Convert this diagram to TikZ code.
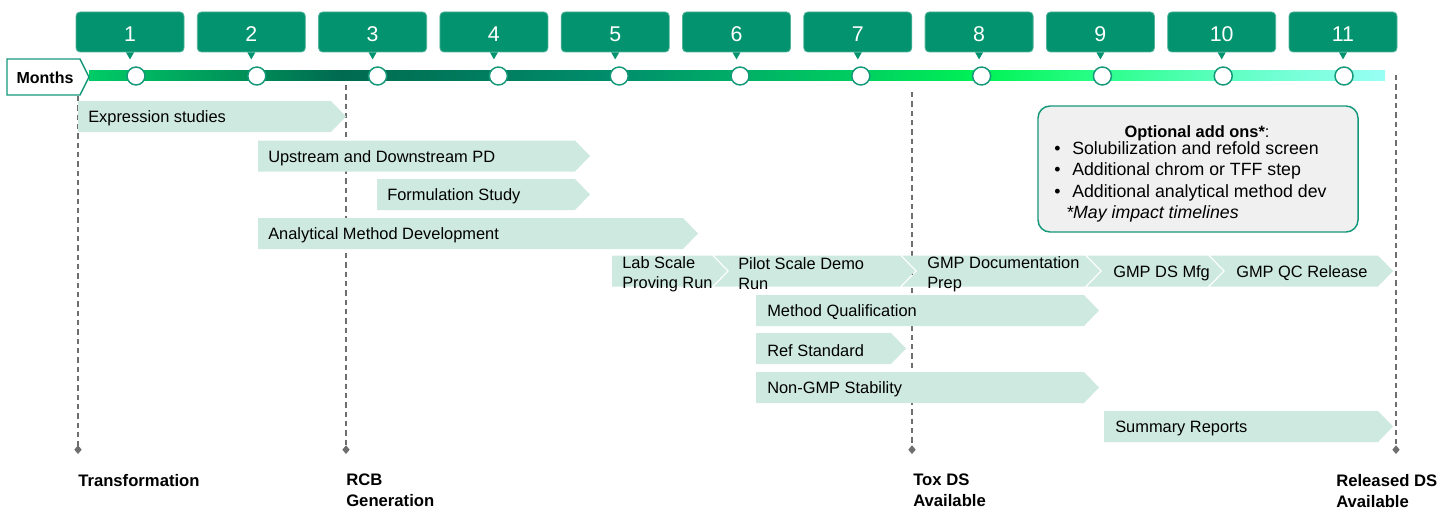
\documentclass[tikz,border=0pt]{standalone}
\usepackage{fontspec}
\setmainfont{Liberation Sans}
\usepackage{tikz}
\usetikzlibrary{arrows.meta}

\definecolor{tagGreen}{HTML}{03936F}
\definecolor{dotGreen}{HTML}{14987A}
\definecolor{barMint}{HTML}{CEE9E0}
\definecolor{guideGray}{HTML}{6E6E6E}
\definecolor{boxGray}{HTML}{F0F0F0}
\definecolor{lineA}{HTML}{00CC66}
\definecolor{lineB}{HTML}{006A50}
\definecolor{lineC}{HTML}{008F6C}
\definecolor{lineD}{HTML}{00D060}
\definecolor{lineE}{HTML}{00F255}
\definecolor{lineF}{HTML}{2BFF8A}
\definecolor{lineG}{HTML}{5CFFC0}
\definecolor{lineH}{HTML}{99FFF5}

\pgfdeclarehorizontalshading{monthline}{100bp}{color(0bp)=(lineA); color(25bp)=(lineA);
  color(34.7bp)=(lineB); color(45.5bp)=(lineC); color(54.8bp)=(lineD); color(59.4bp)=(lineE);
  color(64.1bp)=(lineF); color(68.7bp)=(lineG); color(75bp)=(lineH); color(100bp)=(lineH)}

% left end, tip, centre y, notch depth
\newcommand{\taskbar}[4]{%
  \fill[barMint] (#1,{#3-15.5}) -- ({#2-15},{#3-15.5}) -- (#2,#3) -- ({#2-15},{#3+15.5})
    -- (#1,{#3+15.5}) -- ({#1+#4},#3) -- cycle;}

\tikzset{
  tag/.style={rectangle, rounded corners=3pt, fill=tagGreen, draw=tagGreen!70!white, line width=0.6pt,
    minimum width=81pt, minimum height=30pt, text height=14pt, text=white, font=\fontsize{16}{18}\selectfont},
  dot/.style={circle, fill=white, draw=dotGreen, line width=1.1pt, minimum size=13.5pt, inner sep=0pt},
  tasktext/.style={anchor=west, inner sep=0pt, align=left, font=\fontsize{12.3}{15}\selectfont},
  guide/.style={guideGray, line width=0.9pt, dash pattern=on 4pt off 3pt, -{Diamond[length=6.5pt,width=5.5pt]}},
  milestone/.style={anchor=north west, inner sep=0pt, align=left, font=\bfseries\fontsize{12.5}{15.75}\selectfont},
  addonbox/.style={rectangle, rounded corners=9pt, fill=boxGray, draw=dotGreen, line width=1.1pt,
    minimum width=240pt, minimum height=94.5pt},
  addonitem/.style={anchor=west, inner sep=0pt, font=\fontsize{13.3}{16}\selectfont}
}

\begin{document}
\begin{tikzpicture}[x=0.75pt, y=-0.75pt]
    \useasboundingbox (0,0) rectangle (1455,510);

    % guides
    \coordinate (g1top) at (78,96);    \coordinate (g1bot) at (78,454);
    \coordinate (g2top) at (346,85);   \coordinate (g2bot) at (346,454);
    \coordinate (g3top) at (912,92);   \coordinate (g3bot) at (912,454);
    \coordinate (g4top) at (1396,75);  \coordinate (g4bot) at (1396,454);
    \foreach \g in {1,...,4}
        \draw[guide] (g\g top) -- (g\g bot);

    % month line
    \fill[shading=monthline] (89,71) rectangle (1385,81);
    \draw[draw=dotGreen, fill=white, line width=1.1pt] (7,59) -- (80,59) -- (89,77) -- (80,95) -- (7,95) -- cycle;
    \node (months) at (45,78) {\bfseries\fontsize{12}{14}\selectfont Months};

    \foreach \i in {1,...,11} {
        \node[tag] (tag\i) at ({130+(\i-1)*121.3},32) {\i};
        \fill[tagGreen] ([xshift=-3pt]tag\i.south) -- ([yshift=-5.25pt]tag\i.south) -- ([xshift=3pt]tag\i.south) -- cycle;
        \node[dot] (dot\i) at ({136+(\i-1)*120.8},76) {};
    }

    % tasks
    \taskbar{78}{346}{116.5}{0}
    \taskbar{258}{590}{156}{0}
    \taskbar{377}{590}{194.5}{0}
    \taskbar{258}{698}{233.5}{0}
    \taskbar{612}{727}{271}{0}
    \taskbar{714}{915}{271}{15}
    \taskbar{902}{1100}{271}{15}
    \taskbar{1087}{1223}{271}{15}
    \taskbar{1210}{1393}{271}{15}
    \taskbar{756}{1099}{310.5}{0}
    \taskbar{756}{906}{348.5}{0}
    \taskbar{756}{1099}{387.5}{0}
    \taskbar{1104}{1393}{426.5}{0}

    \node[tasktext] (expr) at (88,118.5) {Expression studies};
    \node[tasktext] (updown) at (268,158) {Upstream and Downstream PD};
    \node[tasktext] (formul) at (387,196.5) {Formulation Study};
    \node[tasktext] (amd) at (268,235.5) {Analytical Method Development};
    \node[tasktext] (labrun) at (622,274) {Lab Scale\\Proving Run};
    \node[tasktext] (pilot) at (738,274) {Pilot Scale Demo\\Run};
    \node[tasktext] (gmpdoc) at (927,274) {GMP Documentation\\Prep};
    \node[tasktext] (gmpmfg) at (1113,273) {GMP DS Mfg};
    \node[tasktext] (qcrel) at (1236,273) {GMP QC Release};
    \node[tasktext] (methq) at (767,312) {Method Qualification};
    \node[tasktext] (refstd) at (767,350.5) {Ref Standard};
    \node[tasktext] (stab) at (767,389.5) {Non-GMP Stability};
    \node[tasktext] (summ) at (1115,428) {Summary Reports};

    % optional add ons
    \node[addonbox] (addons) at (1198,169) {};
    \node[font=\fontsize{12.3}{15}\selectfont] (addonhead) at (1197,133) {\textbf{Optional add ons*}:};
    \node[addonitem] (addon1) at (1054,148) {\makebox[13.5pt][l]{\textbullet}Solubilization and refold screen};
    \node[addonitem] (addon2) at (1054,170.5) {\makebox[13.5pt][l]{\textbullet}Additional chrom or TFF step};
    \node[addonitem] (addon3) at (1054,193) {\makebox[13.5pt][l]{\textbullet}Additional analytical method dev};
    \node[addonitem] (addonnote) at (1066,214) {\itshape *May impact timelines};

    % milestones
    \node[milestone] (ms1) at (78,474) {Transformation};
    \node[milestone] (ms2) at (346,474) {RCB\\Generation};
    \node[milestone] (ms3) at (913,474) {Tox DS\\Available};
    \node[milestone] (ms4) at (1336,474) {Released DS\\Available};

\end{tikzpicture}
\end{document}
